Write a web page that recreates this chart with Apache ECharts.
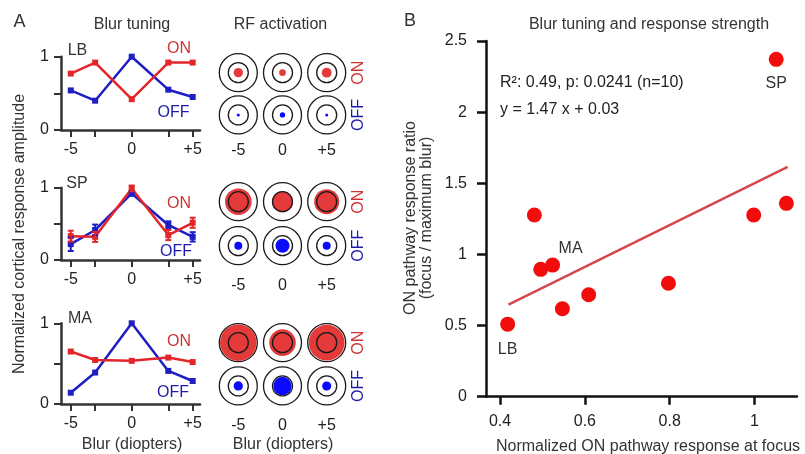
<!DOCTYPE html>
<html>
<head>
<meta charset="utf-8">
<script src="https://cdn.jsdelivr.net/npm/echarts@6/dist/echarts.min.js"></script>
<style>
  html, body { margin: 0; padding: 0; background: #fff; }
  #chart { width: 805px; height: 454px; }
</style>
</head>
<body>
<div id="chart"></div>
<script>
// --- data ---
const blurSteps = [-5, -3, 0, 3, 5];
const blurLabels = ['-5', '0', '+5'];

const lbOn = [0.77, 0.92, 0.42, 0.92, 0.92];
const lbOff = [0.54, 0.40, 1.00, 0.55, 0.45];
const spOn = [0.33, 0.32, 0.99, 0.345, 0.515];
const spOnErr = [0.075, 0.07, 0.04, 0.07, 0.07];
const spOff = [0.22, 0.415, 0.92, 0.485, 0.32];
const spOffErr = [0.095, 0.075, 0.03, 0.05, 0.065];
const maOn = [0.65, 0.545, 0.535, 0.575, 0.52];
const maOff = [0.14, 0.39, 1.00, 0.41, 0.285];

// RF activation, relative to the receptive field size (at -5, 0, +5)
const rfOnLB = [0.245, 0.175, 0.26];
const rfOffLB = [0.08, 0.14, 0.08];
const rfOnSP = [0.70, 0.55, 0.66];
const rfOffSP = [0.21, 0.37, 0.21];
const rfOnMA = [0.96, 0.70, 0.94];
const rfOffMA = [0.245, 0.48, 0.24];

// panel B
const focusResponse = [0.418, 0.481, 0.496, 0.524, 0.547, 0.609, 0.797, 0.998, 1.051, 1.075];
const responseRatio = [0.51, 1.277, 0.895, 0.925, 0.618, 0.717, 0.797, 1.277, 2.371, 1.359];
const pointNames = ['LB', '', '', 'MA', '', '', '', '', 'SP', ''];
const fitSlope = 1.47, fitIntercept = 0.03;
const fitRange = [0.42, 1.078];
const yTicksB = [0, 0.5, 1, 1.5, 2, 2.5];
const xTicksB = [0.4, 0.6, 0.8, 1];

const RED = '#e4262a';
const BLUE = '#1e1ec4';
const FONT = '"Liberation Sans", Arial, sans-serif';
const RF_SIZE = 38;

let myChart = echarts.init(document.getElementById('chart'));

const lineGrids = [
  { left: 61, top: 56.7, width: 139, height: 73.3 },
  { left: 61, top: 187.7, width: 139, height: 72.3 },
  { left: 61, top: 323.3, width: 139, height: 80.7 }
];
const rfGrids = [
  { left: 216.2, top: 51.5, width: 132.6, height: 84.6 },
  { left: 216.2, top: 179.7, width: 132.6, height: 88 },
  { left: 216.2, top: 321, width: 132.6, height: 86.6 }
];
const gridB = { left: 486, top: 41, width: 311, height: 355.7 };

const axisTxt = { color: '#222', fontSize: 16, fontFamily: FONT };

const xAxes = [], yAxes = [];
lineGrids.forEach((g, i) => {
  xAxes.push({
    gridIndex: i, type: 'value', min: -5.8, max: 5.6,
    axisLine: { onZero: false, lineStyle: { color: '#333', width: 2.5 } },
    axisTick: { length: 7, lineStyle: { width: 2, color: '#333' }, customValues: blurSteps },
    axisLabel: Object.assign({ margin: 12, customValues: [-5, 0, 5],
      formatter: v => v > 0 ? '+' + v : String(v) }, axisTxt),
    splitLine: { show: false }
  });
  yAxes.push({
    gridIndex: i, type: 'value', min: 0, max: 1,
    axisLine: { show: true, onZero: false, lineStyle: { color: '#333', width: 2.5 } },
    axisTick: { show: true, length: 7, lineStyle: { width: 2, color: '#333' }, customValues: [0, 0.5, 1] },
    axisLabel: Object.assign({ margin: 12, customValues: [0, 1] }, axisTxt),
    splitLine: { show: false }
  });
});
const rfLabelMargins = [6, 10, 10];
rfGrids.forEach((g, i) => {
  xAxes.push({
    gridIndex: 3 + i, type: 'category', data: blurLabels,
    axisLine: { show: false }, axisTick: { show: false },
    axisLabel: Object.assign({ margin: rfLabelMargins[i], interval: 0 }, axisTxt)
  });
  yAxes.push({
    gridIndex: 3 + i, type: 'category', data: ['OFF', 'ON'], position: 'right',
    axisLine: { show: false }, axisTick: { show: false },
    axisLabel: {
      rotate: 90, margin: 2, interval: 0, hideOverlap: false, fontSize: 16, fontFamily: FONT,
      formatter: v => v === 'ON' ? '{on|ON}' : '{off|OFF}',
      rich: {
        on: { color: '#cc3434', fontSize: 16, fontFamily: FONT },
        off: { color: '#1c1ca8', fontSize: 16, fontFamily: FONT }
      }
    }
  });
});
xAxes.push({
  gridIndex: 6, type: 'value', min: 0.367, max: 1.1,
  axisLine: { onZero: false, lineStyle: { color: '#111', width: 2.5 } },
  axisTick: { length: 8, lineStyle: { width: 2.5, color: '#111' }, customValues: xTicksB },
  axisLabel: Object.assign({ margin: 17, customValues: xTicksB }, axisTxt),
  splitLine: { show: false }
});
yAxes.push({
  gridIndex: 6, type: 'value', min: 0, max: 2.5,
  axisLine: { show: true, onZero: false, lineStyle: { color: '#111', width: 2.5 } },
  axisTick: { show: true, length: 9, lineStyle: { width: 2.5, color: '#111' }, customValues: yTicksB },
  axisLabel: Object.assign({ margin: 19, customValues: yTicksB }, axisTxt),
  splitLine: { show: false }
});

const series = [];
const tuning = [[lbOn, lbOff], [spOn, spOff], [maOn, maOff]];
tuning.forEach((pair, i) => {
  [[pair[1], BLUE], [pair[0], RED]].forEach(([vals, color]) => {
    series.push({
      type: 'line', xAxisIndex: i, yAxisIndex: i,
      data: blurSteps.map((x, k) => [x, vals[k]]),
      symbol: 'rect', symbolSize: 6,
      lineStyle: { color: color, width: 2.5 },
      itemStyle: { color: color },
      z: 3
    });
  });
});

// SP error bars
function errorBars(vals, errs, color) {
  return {
    type: 'custom', xAxisIndex: 1, yAxisIndex: 1, z: 4,
    data: blurSteps.map((x, k) => [x, vals[k] - errs[k], vals[k] + errs[k]]),
    encode: { x: 0, y: [1, 2] },
    renderItem: (params, api) => {
      const top = api.coord([api.value(0), api.value(2)]);
      const bot = api.coord([api.value(0), api.value(1)]);
      const w = 3;
      const st = { stroke: color, lineWidth: 2 };
      return {
        type: 'group', children: [
          { type: 'line', shape: { x1: top[0], y1: top[1], x2: bot[0], y2: bot[1] }, style: st },
          { type: 'line', shape: { x1: top[0] - w, y1: top[1], x2: top[0] + w, y2: top[1] }, style: st },
          { type: 'line', shape: { x1: bot[0] - w, y1: bot[1], x2: bot[0] + w, y2: bot[1] }, style: st }
        ]
      };
    }
  };
}
series.push(errorBars(spOff, spOffErr, BLUE));
series.push(errorBars(spOn, spOnErr, RED));

// RF activation circles
const rfData = [[rfOnLB, rfOffLB], [rfOnSP, rfOffSP], [rfOnMA, rfOffMA]];
const cells = [];
[0, 1, 2].forEach(c => { cells.push([c, 0]); cells.push([c, 1]); });
rfData.forEach((pair, i) => {
  const ax = { xAxisIndex: 3 + i, yAxisIndex: 3 + i };
  series.push(Object.assign({
    type: 'scatter', data: cells, symbolSize: RF_SIZE, silent: true, z: 2,
    itemStyle: { color: 'rgba(0,0,0,0)', borderColor: '#1a1a1a', borderWidth: 1.3, opacity: 1 }
  }, ax));
  series.push(Object.assign({
    type: 'scatter', z: 3, silent: true,
    data: pair[0].map((v, c) => [c, 1, v]),
    symbolSize: v => v[2] * RF_SIZE,
    itemStyle: { color: '#e43a3a', opacity: 1 }
  }, ax));
  series.push(Object.assign({
    type: 'scatter', z: 3, silent: true,
    data: pair[1].map((v, c) => [c, 0, v]),
    symbolSize: v => v[2] * RF_SIZE,
    itemStyle: { color: '#0a0aff', opacity: 1 }
  }, ax));
  series.push(Object.assign({
    type: 'scatter', data: cells, symbolSize: 20, silent: true, z: 4,
    itemStyle: { color: 'rgba(0,0,0,0)', borderColor: '#1a1a1a', borderWidth: 1.3, opacity: 1 }
  }, ax));
});

// panel B
series.push({
  type: 'line', xAxisIndex: 6, yAxisIndex: 6, z: 2,
  data: fitRange.map(x => [x, fitSlope * x + fitIntercept]),
  symbol: 'none', lineStyle: { color: '#d6474b', width: 2.5 }
});
const labelPos = {
  LB: { position: 'bottom', distance: 10 },
  MA: { position: 'top', distance: 1, offset: [18, 0] },
  SP: { position: 'bottom', distance: 9 }
};
series.push({
  type: 'scatter', xAxisIndex: 6, yAxisIndex: 6, z: 3,
  symbolSize: 15,
  itemStyle: { color: '#f20d0d', opacity: 1 },
  data: focusResponse.map((x, k) => {
    const item = { value: [x, responseRatio[k]] };
    const n = pointNames[k];
    if (n) {
      item.label = Object.assign({ show: true, formatter: n, color: '#333', fontSize: 16, fontFamily: FONT }, labelPos[n]);
    }
    return item;
  })
});

function txt(text, x, y, opts) {
  opts = opts || {};
  return {
    type: 'text', x: x, y: y, rotation: opts.rotation || 0, z: 10,
    style: {
      text: text, fill: opts.color || '#333',
      font: (opts.size || 16) + 'px ' + FONT,
      align: opts.align || 'center', verticalAlign: 'middle'
    }
  };
}
const graphics = [
  txt('A', 19.5, 22, { size: 18 }),
  txt('B', 410, 21.5, { size: 18 }),
  txt('Blur tuning', 132, 25),
  txt('RF activation', 280.5, 25),
  txt('Blur tuning and response strength', 649, 25),
  txt('Normalized cortical response amplitude', 20, 234, { rotation: Math.PI / 2 }),
  txt('Blur (diopters)', 132, 445),
  txt('Blur (diopters)', 283, 445),
  txt('ON pathway response ratio', 411, 218, { rotation: Math.PI / 2 }),
  txt('(focus / maximum blur)', 427, 218, { rotation: Math.PI / 2 }),
  txt('Normalized ON pathway response at focus', 648, 447),
  txt('R²: 0.49, p: 0.0241 (n=10)', 500, 83, { align: 'left', color: '#222' }),
  txt('y = 1.47 x + 0.03', 500, 110, { align: 'left', color: '#222' }),
  txt('LB', 77.5, 51), txt('ON', 179, 49, { color: '#cc3434' }), txt('OFF', 173.5, 113, { color: '#1c1ca8' }),
  txt('SP', 77, 184), txt('ON', 179, 204, { color: '#cc3434' }), txt('OFF', 176, 251.5, { color: '#1c1ca8' }),
  txt('MA', 80, 318.5), txt('ON', 179, 342, { color: '#cc3434' }), txt('OFF', 173, 393, { color: '#1c1ca8' })
];

myChart.setOption({
  animation: false,
  backgroundColor: '#fff',
  grid: lineGrids.concat(rfGrids, [gridB]),
  xAxis: xAxes,
  yAxis: yAxes,
  series: series,
  graphic: graphics
});
</script>
</body>
</html>
